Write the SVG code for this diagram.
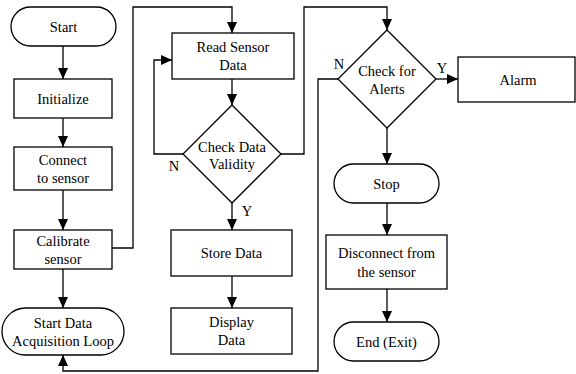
<svg xmlns="http://www.w3.org/2000/svg" width="576" height="374" viewBox="0 0 576 374" font-family="Liberation Serif, Times New Roman, Times, Noto Serif, DejaVu Serif, serif">
  <style>
    .shape { fill: #ffffff; stroke: #000000; stroke-width: 1.3; }
    .edge { fill: none; stroke: #000000; stroke-width: 1.3; }
    .t { font-size: 14.5px; fill: #000000; text-anchor: middle; }
  </style>
  <defs>
    <marker id="arrow" markerUnits="userSpaceOnUse" markerWidth="11" markerHeight="10" refX="11" refY="5" orient="auto">
      <path d="M0,0 L11,5 L0,10 Z" fill="#000000"/>
    </marker>
  </defs>
  <rect width="576" height="374" fill="#ffffff"/>

  <!-- connectors -->
  <g id="connectors" marker-end="url(#arrow)">
    <path class="edge" d="M63,46 V79"/>
    <path class="edge" d="M63,118 V147"/>
    <path class="edge" d="M63,190 V230"/>
    <path class="edge" d="M63,269 V308"/>
    <path class="edge" d="M112,248 H133 V7 H232 V33"/>
    <path class="edge" d="M232,79 V105"/>
    <path class="edge" d="M183,154 H154 V60 H172"/>
    <path class="edge" d="M281,154 H304 V7 H387 V30"/>
    <path class="edge" d="M232,203 V230"/>
    <path class="edge" d="M232,276 V308"/>
    <path class="edge" d="M436,79 H458"/>
    <path class="edge" d="M338,79 H318 V371 H63 V355"/>
    <path class="edge" d="M387,128 V164"/>
    <path class="edge" d="M387,203 V235"/>
    <path class="edge" d="M387,289 V322"/>
  </g>

  <!-- branch labels -->
  <g id="labels">
    <text class="t" font-family="Liberation Serif" x="174" y="170.5">N</text>
    <text class="t" font-family="Liberation Serif" x="247" y="215.5">Y</text>
    <text class="t" font-family="Liberation Serif" x="339" y="69">N</text>
    <text class="t" font-family="Liberation Serif" x="442" y="72.5">Y</text>
  </g>

  <g id="start">
    <rect class="shape" x="11" y="7" width="105" height="39" rx="19.5"/>
    <text class="t" x="63.5" y="31.5">Start</text>
  </g>
  <g id="initialize">
    <rect class="shape" x="14" y="79" width="98" height="39"/>
    <text class="t" x="63" y="103.5">Initialize</text>
  </g>
  <g id="connect">
    <rect class="shape" x="14" y="147" width="98" height="43"/>
    <text class="t" x="63" y="165">Connect</text>
    <text class="t" x="63" y="183">to sensor</text>
  </g>
  <g id="calibrate">
    <rect class="shape" x="14" y="230" width="98" height="39"/>
    <text class="t" x="63" y="246">Calibrate</text>
    <text class="t" x="63" y="263.5">sensor</text>
  </g>
  <g id="start-loop">
    <rect class="shape" x="2" y="308" width="122" height="47" rx="23.5"/>
    <text class="t" x="63" y="327.5">Start Data</text>
    <text class="t" x="63" y="345.5">Acquisition Loop</text>
  </g>
  <g id="read-sensor">
    <rect class="shape" x="172" y="33" width="122" height="46"/>
    <text class="t" x="233" y="52">Read Sensor</text>
    <text class="t" x="233" y="70">Data</text>
  </g>
  <g id="check-validity">
    <polygon class="shape" points="232,105 281,154 232,203 183,154"/>
    <text class="t" x="232" y="151.5">Check Data</text>
    <text class="t" x="232" y="168.5">Validity</text>
  </g>
  <g id="store-data">
    <rect class="shape" x="171" y="230" width="121" height="46"/>
    <text class="t" x="231.5" y="258">Store Data</text>
  </g>
  <g id="display-data">
    <rect class="shape" x="171" y="308" width="121" height="46"/>
    <text class="t" x="231.5" y="327">Display</text>
    <text class="t" x="231.5" y="345">Data</text>
  </g>
  <g id="check-alerts">
    <polygon class="shape" points="387,30 436,79 387,128 338,79"/>
    <text class="t" x="387" y="76">Check for</text>
    <text class="t" x="387" y="94">Alerts</text>
  </g>
  <g id="alarm">
    <rect class="shape" x="458" y="57" width="117" height="45"/>
    <text class="t" x="518" y="84.5">Alarm</text>
  </g>
  <g id="stop">
    <rect class="shape" x="334" y="164" width="105" height="39" rx="19.5"/>
    <text class="t" x="386.5" y="188.5">Stop</text>
  </g>
  <g id="disconnect">
    <rect class="shape" x="326" y="235" width="121" height="54"/>
    <text class="t" x="386.5" y="257.5">Disconnect from</text>
    <text class="t" x="386.5" y="276.5">the sensor</text>
  </g>
  <g id="end">
    <rect class="shape" x="334" y="322" width="105" height="39" rx="19.5"/>
    <text class="t" x="386.5" y="346.5">End (Exit)</text>
  </g>
</svg>
